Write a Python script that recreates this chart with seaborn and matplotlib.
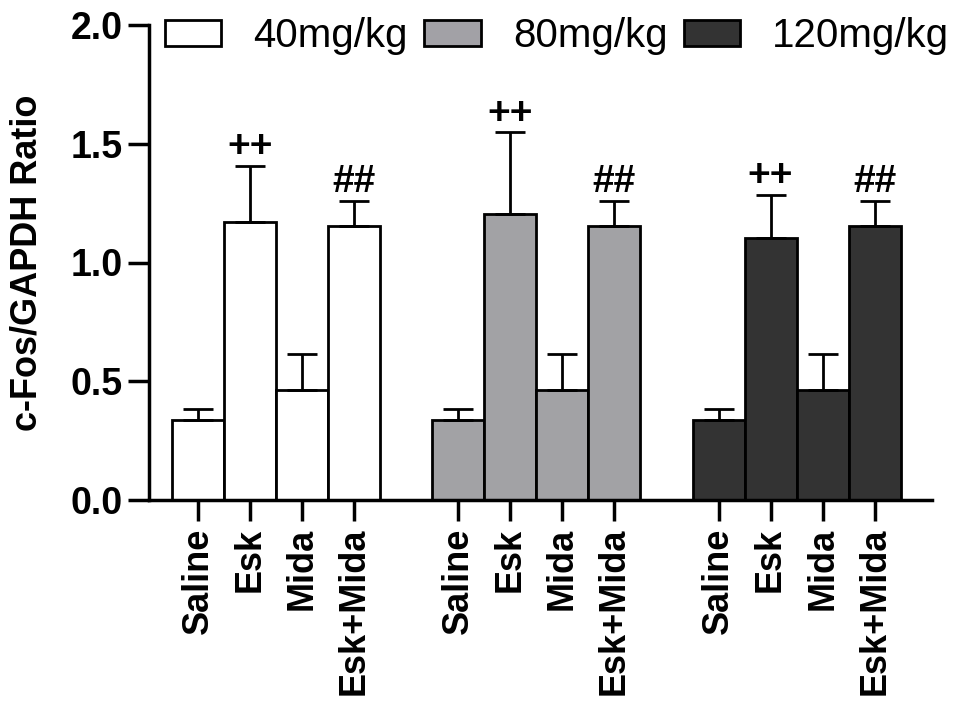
import numpy as np
import pandas as pd
import matplotlib
matplotlib.use("Agg")
import matplotlib.pyplot as plt
import seaborn as sns
from matplotlib.patches import Patch

doses = ['40mg/kg', '80mg/kg', '120mg/kg']
treatments = ['Saline', 'Esk', 'Mida', 'Esk+Mida']
means_40 = [0.335, 1.172, 0.462, 1.154]
means_80 = [0.335, 1.205, 0.462, 1.154]
means_120 = [0.335, 1.102, 0.462, 1.154]
err_40 = [0.050, 0.236, 0.154, 0.106]
err_80 = [0.050, 0.345, 0.154, 0.106]
err_120 = [0.050, 0.184, 0.154, 0.106]
marks = ['', '++', '', '##']
colors = {'40mg/kg': '#FFFFFF', '80mg/kg': '#A2A1A6', '120mg/kg': '#333333'}

rows = []
for g, (d, m, e) in enumerate(zip(doses, [means_40, means_80, means_120], [err_40, err_80, err_120])):
    for j, t in enumerate(treatments):
        rows.append(dict(dose=d, treatment=t, pos=g * 5 + j, mean=m[j], err=e[j], mark=marks[j]))
df = pd.DataFrame(rows)

sns.set_style("ticks")
plt.rcParams['font.family'] = ['Liberation Sans', 'DejaVu Sans']
plt.rcParams.update({'text.color': 'black', 'axes.labelcolor': 'black',
                     'xtick.color': 'black', 'ytick.color': 'black',
                     'axes.edgecolor': 'black'})

fig = plt.figure(figsize=(9.57, 7.02), dpi=100)
ax = fig.add_axes([149 / 957, 1 - 500 / 702, (932 - 149) / 957, (500 - 25) / 702])

sns.barplot(data=df, x='pos', y='mean', hue='dose', hue_order=doses, palette=colors,
            native_scale=True, dodge=False, width=1.0, edgecolor='black', linewidth=2,
            errorbar=None, legend=False, ax=ax, zorder=2)

ax.errorbar(df['pos'], df['mean'], yerr=[np.zeros(len(df)), df['err']], fmt='none',
            ecolor='black', elinewidth=2, capsize=11, capthick=2, zorder=3)

for _, r in df.iterrows():
    if r['mark']:
        ax.annotate(r['mark'], (r['pos'], r['mean'] + r['err']), xytext=(0, 6),
                    textcoords='offset points', ha='center', va='baseline',
                    fontsize=28, fontweight='bold', color='black')

ax.set_xlim(-0.94, 14.1)
ax.set_ylim(0, 2.0)
ax.set_yticks([0.0, 0.5, 1.0, 1.5, 2.0])
ax.set_yticklabels(['0.0', '0.5', '1.0', '1.5', '2.0'], fontsize=27, fontweight='bold')
ax.set_xticks(df['pos'])
ax.set_xticklabels(df['treatment'], rotation=90, fontsize=26, fontweight='bold')
ax.set_xlabel('')
ax.set_ylabel('c-Fos/GAPDH Ratio', fontsize=26, fontweight='bold')
ax.yaxis.set_label_coords(-0.133, 0.5)
sns.despine(ax=ax)
for s in ['left', 'bottom']:
    ax.spines[s].set_linewidth(2.5)
    ax.spines[s].set_color('black')
ax.tick_params(axis='both', length=15, width=2.5, color='black', labelcolor='black')
ax.tick_params(axis='y', pad=4)
ax.tick_params(axis='x', pad=5)

handles = [Patch(facecolor=colors[d], edgecolor='black', linewidth=2) for d in doses]
fig.legend(handles, doses, loc='center left', bbox_to_anchor=(165 / 957, 1 - 36 / 702),
           ncol=3, frameon=False, fontsize=29, handlelength=1.4, handleheight=0.64,
           handletextpad=0.8, columnspacing=0.4, borderpad=0, borderaxespad=0)

fig.savefig('out.png', dpi=100)
